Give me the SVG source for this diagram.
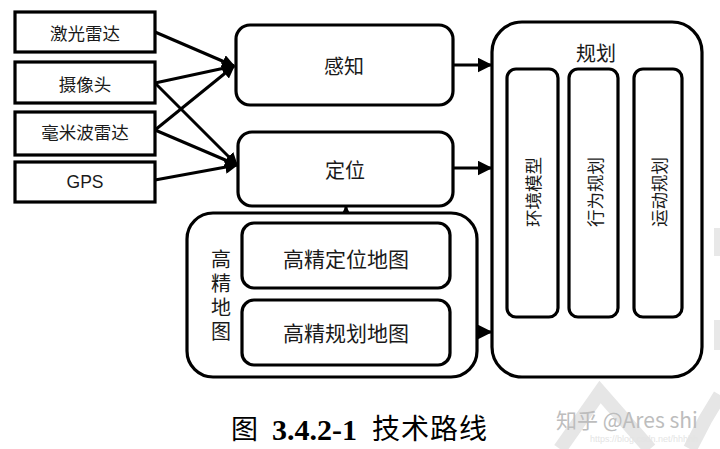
<svg xmlns="http://www.w3.org/2000/svg" width="720" height="449" viewBox="0 0 720 449">
<defs>
<style>
.box{fill:#fff;stroke:#000;stroke-width:3.2}
.lbl{font-family:"Noto Sans CJK SC","Noto Sans",sans-serif;font-size:19px;fill:#1a1a1a;text-anchor:middle;dominant-baseline:central}
.sm{font-size:17.5px}
.en{font-family:"Liberation Sans","Noto Sans CJK SC",sans-serif}
.conn{stroke:#000;stroke-width:3;fill:none}
.wm{fill:none;stroke:#e6e6e6;stroke-width:14}
.vert{font-family:"Noto Sans CJK SC","Noto Sans",sans-serif;font-size:20px;fill:#1a1a1a;text-anchor:middle;writing-mode:vertical-rl;text-orientation:upright;letter-spacing:4px}
</style>
<marker id="ah" viewBox="0 0 10 10" refX="9" refY="5" markerWidth="4.4" markerHeight="4.4" orient="auto" markerUnits="strokeWidth">
<path d="M0,0 L10,5 L0,10 z" fill="#000"/>
</marker>
<marker id="ahs" viewBox="0 0 10 10" refX="9" refY="5" markerWidth="5" markerHeight="5" orient="auto" markerUnits="strokeWidth">
<path d="M0,0 L10,5 L0,10 z" fill="#000"/>
</marker>
</defs>
<rect width="720" height="449" fill="#fff"/>
<g id="watermark-bg">
<path class="wm" d="M560,449 L600,392 L650,449"/>
<path class="wm" d="M690,449 L705,420 L720,395"/>
<rect x="714" y="228" width="6" height="28" fill="#e8e8e8"/>
<rect x="714" y="320" width="6" height="30" fill="#e8e8e8"/>
</g>
<g id="connectors">
<line class="conn" x1="155" y1="32" x2="234" y2="66" marker-end="url(#ah)"/>
<line class="conn" x1="155" y1="83" x2="234" y2="66" marker-end="url(#ah)"/>
<line class="conn" x1="155" y1="130" x2="234" y2="66" marker-end="url(#ah)"/>
<line class="conn" x1="155" y1="83" x2="237" y2="165" marker-end="url(#ah)"/>
<line class="conn" x1="155" y1="130" x2="237" y2="165" marker-end="url(#ah)"/>
<line class="conn" x1="155" y1="180" x2="237" y2="165" marker-end="url(#ah)"/>
<line class="conn" x1="453" y1="65" x2="491" y2="65" stroke-width="2.4" marker-end="url(#ahs)"/>
<line class="conn" x1="453" y1="168" x2="491" y2="168" stroke-width="2.4" marker-end="url(#ahs)"/>
<line class="conn" x1="450" y1="332" x2="491" y2="332" stroke-width="2.4" marker-end="url(#ahs)"/>
<line class="conn" x1="346" y1="223" x2="346" y2="207" stroke-width="2.4" marker-end="url(#ahs)"/>
</g>
<g id="n-lidar"><rect class="box" x="15" y="12" width="140" height="40"/><text class="lbl sm" x="85" y="32">激光雷达</text></g>
<g id="n-camera"><rect class="box" x="15" y="62" width="140" height="41"/><text class="lbl sm" x="85" y="83">摄像头</text></g>
<g id="n-radar"><rect class="box" x="15" y="112" width="140" height="43"/><text class="lbl sm" x="85" y="131">毫米波雷达</text></g>
<g id="n-gps"><rect class="box" x="15" y="162" width="140" height="40"/><text class="lbl sm en" x="85" y="182">GPS</text></g>
<g id="n-perception"><rect class="box" x="236" y="25" width="217" height="80" rx="14"/><text class="lbl" x="344" y="65" style="font-size:20px">感知</text></g>
<g id="n-localization"><rect class="box" x="238" y="132" width="215" height="74" rx="14"/><text class="lbl" x="345" y="169" style="font-size:20px">定位</text></g>
<g id="n-hdmap">
<rect class="box" x="187" y="213" width="290" height="164" rx="26"/>
<text class="vert" x="221" y="297">高精地图</text>
</g>
<g id="n-hdloc"><rect class="box" x="242" y="223" width="208" height="65" rx="12"/><text class="lbl" x="346" y="258" style="font-size:21px">高精定位地图</text></g>
<g id="n-hdplan"><rect class="box" x="242" y="300" width="208" height="65" rx="12"/><text class="lbl" x="346" y="332" style="font-size:21px">高精规划地图</text></g>
<g id="n-planning">
<rect class="box" x="492" y="22" width="210" height="355" rx="30"/>
<text class="lbl" x="596" y="52" style="font-size:20px">规划</text>
</g>
<g id="n-env"><rect class="box" x="507" y="69" width="51" height="248" rx="9"/><text class="lbl sm" transform="translate(532,192) rotate(-90)" x="0" y="0">环境模型</text></g>
<g id="n-behavior"><rect class="box" x="569" y="69" width="49" height="248" rx="9"/><text class="lbl sm" transform="translate(594,192) rotate(-90)" x="0" y="0">行为规划</text></g>
<g id="n-motion"><rect class="box" x="634" y="69" width="48" height="248" rx="9"/><text class="lbl sm" transform="translate(658,192) rotate(-90)" x="0" y="0">运动规划</text></g>
<g id="caption">
<text x="231" y="439" style="font-family:'Noto Sans CJK SC',serif;font-size:27px;fill:#000">图</text>
<text x="272" y="440" style="font-family:'Liberation Serif',serif;font-size:30px;font-weight:bold;fill:#000">3.4.2-1</text>
<text x="372" y="439" style="font-family:'Noto Sans CJK SC',serif;font-size:28px;letter-spacing:1px;fill:#000">技术路线</text>
</g>
<g id="watermark-text">
<text x="556" y="428" style="font-family:'Noto Sans CJK SC','Liberation Sans',sans-serif;font-size:21px;fill:#bdbdbd">知乎 @Ares shi</text>
<text x="590" y="442" style="font-family:'Liberation Sans',sans-serif;font-size:9px;fill:#e4e4e4">https://blog.csdn.net/hhhhh</text>
</g>
</svg>
